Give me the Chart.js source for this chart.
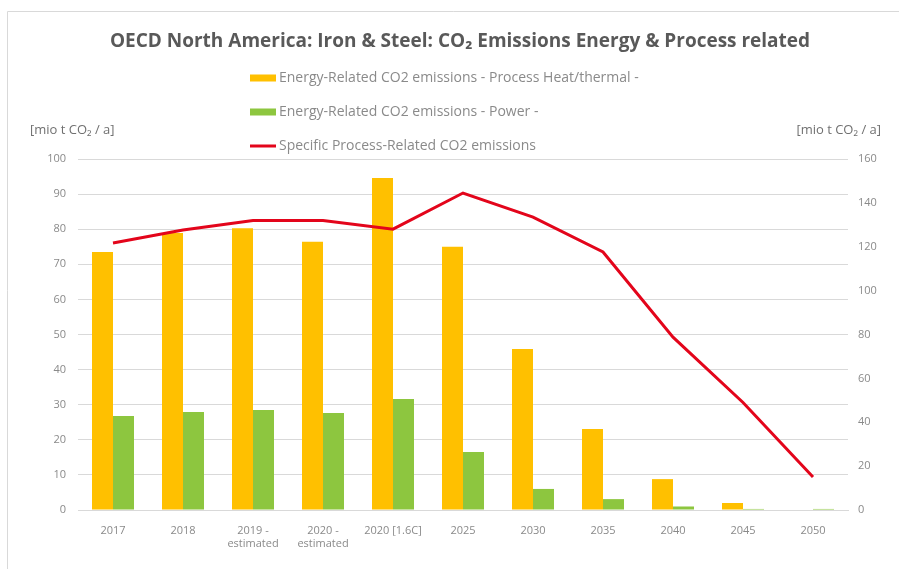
<!DOCTYPE html>
<html>
<head>
<meta charset="utf-8">
<script src="https://cdn.jsdelivr.net/npm/chart.js@4.4.1/dist/chart.umd.min.js"></script>
<style>
  html, body { margin: 0; padding: 0; background: #fff; }
  #wrap { width: 899px; height: 569px; }
</style>
</head>
<body>
<div id="wrap"><canvas id="chart" width="899" height="569"></canvas></div>
<script>
// categories and series
const years = ['2017', '2018', ['2019 -', 'estimated'], ['2020 -', 'estimated'], '2020 [1.6C]',
  '2025', '2030', '2035', '2040', '2045', '2050'];
const heatValues = [73.5, 78.9, 80.3, 76.4, 94.6, 75.0, 45.9, 23.1, 8.8, 2.0, 0];
const powerValues = [26.8, 27.9, 28.5, 27.6, 31.6, 16.5, 6.0, 3.1, 1.0, 0.3, 0.3];
const processValues = [121.7, 127.6, 132, 132, 128, 144.5, 133.5, 117.6, 78.8, 49, 15];
const leftTicks = [0, 10, 20, 30, 40, 50, 60, 70, 80, 90, 100];
const rightTicks = [0, 20, 40, 60, 80, 100, 120, 140, 160];

const seriesNames = [
  'Energy-Related CO2 emissions - Process Heat/thermal -',
  'Energy-Related CO2 emissions - Power -',
  'Specific Process-Related CO2 emissions'
];
const titleText = 'OECD North America: Iron & Steel: CO\u2082 Emissions Energy & Process related';
const unitText = '[mio t CO\u2082 / a]';

const ORANGE = '#FFC000';
const GREEN = '#8DC63F';
const RED = '#E3051B';
const GRID = '#d9d9d9';
const TEXT = '#8a8a8a';
const FONT = '"Open Sans", sans-serif';

// title, unit labels, legend and frame drawn on the canvas
const decor = {
  id: 'decor',
  beforeDraw(chart) {
    const ctx = chart.ctx;
    ctx.save();
    ctx.strokeStyle = GRID;
    ctx.lineWidth = 1;
    ctx.beginPath();
    ctx.moveTo(7.5, 569);
    ctx.lineTo(7.5, 11.5);
    ctx.lineTo(899, 11.5);
    ctx.stroke();
    ctx.restore();
  },
  afterDraw(chart) {
    const ctx = chart.ctx;
    ctx.save();
    ctx.fillStyle = '#595959';
    ctx.font = 'bold 19px ' + FONT;
    ctx.textAlign = 'center';
    ctx.textBaseline = 'middle';
    ctx.fillText(titleText, 460, 42);

    ctx.font = '13px ' + FONT;
    ctx.fillStyle = '#707070';
    ctx.textAlign = 'left';
    ctx.fillText(unitText, 30, 130);
    ctx.textAlign = 'right';
    ctx.fillText(unitText, 881, 130);

    const rows = [78, 112, 146];
    const colors = [ORANGE, GREEN, RED];
    ctx.textAlign = 'left';
    ctx.font = '14px ' + FONT;
    rows.forEach((y, i) => {
      ctx.fillStyle = colors[i];
      if (i < 2) {
        ctx.fillRect(250, y - 3.5, 26, 7);
      } else {
        ctx.fillRect(250, y - 1.5, 26, 3);
      }
      ctx.fillStyle = TEXT;
      ctx.fillText(seriesNames[i], 279, y);
    });
    ctx.restore();
  }
};

const ctx = document.getElementById('chart').getContext('2d');
new Chart(ctx, {
  type: 'bar',
  data: {
    labels: years,
    datasets: [
      {
        type: 'line',
        label: seriesNames[2],
        data: processValues,
        yAxisID: 'y1',
        borderColor: RED,
        backgroundColor: RED,
        borderWidth: 3,
        pointRadius: 0,
        tension: 0,
        order: 0
      },
      {
        label: seriesNames[0],
        data: heatValues,
        yAxisID: 'y',
        backgroundColor: ORANGE,
        categoryPercentage: 0.6,
        barPercentage: 1.0,
        order: 1
      },
      {
        label: seriesNames[1],
        data: powerValues,
        yAxisID: 'y',
        backgroundColor: GREEN,
        categoryPercentage: 0.6,
        barPercentage: 1.0,
        order: 1
      }
    ]
  },
  options: {
    responsive: false,
    animation: false,
    layout: { padding: { top: 159, left: 0, right: 0, bottom: 0 } },
    plugins: {
      legend: { display: false },
      title: { display: false },
      tooltip: { enabled: false }
    },
    scales: {
      x: {
        grid: { display: false, drawTicks: false },
        border: { display: true, color: GRID },
        ticks: { color: TEXT, font: { family: FONT, size: 11 }, padding: 14, maxRotation: 0, autoSkip: false },
        afterFit(scale) { scale.height = 59; }
      },
      y: {
        position: 'left',
        min: 0,
        max: 100,
        afterBuildTicks(scale) { scale.ticks = leftTicks.map(v => ({ value: v })); },
        grid: { color: GRID, drawTicks: false },
        border: { display: false },
        ticks: { color: TEXT, font: { family: FONT, size: 11 }, padding: 12 },
        afterFit(scale) { scale.width = 78; }
      },
      y1: {
        position: 'right',
        min: 0,
        max: 160,
        afterBuildTicks(scale) { scale.ticks = rightTicks.map(v => ({ value: v })); },
        grid: { display: false, drawTicks: false },
        border: { display: false },
        ticks: { color: TEXT, font: { family: FONT, size: 11 }, padding: 10 },
        afterFit(scale) { scale.width = 51; }
      }
    }
  },
  plugins: [decor]
});
</script>
</body>
</html>
